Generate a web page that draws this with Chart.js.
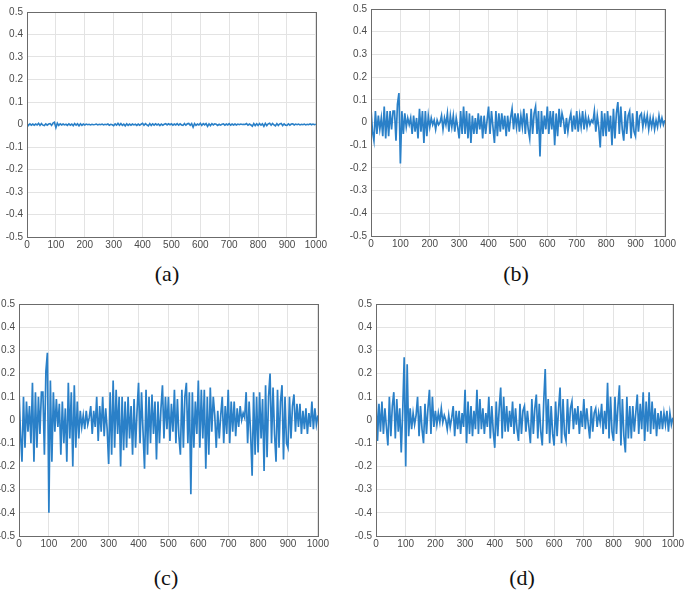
<!DOCTYPE html>
<html>
<head>
<meta charset="utf-8">
<script src="https://cdn.jsdelivr.net/npm/chart.js@4.4.0/dist/chart.umd.min.js"></script>
<style>
  html, body { margin:0; padding:0; background:#fff; }
  body { width:685px; height:591px; position:relative; overflow:hidden; }
  .pane { position:absolute; }
  .cap { position:absolute; font-family:"Liberation Serif","Times New Roman",serif; font-size:22px; color:#111; transform:translate(-50%,-50%); white-space:nowrap; }
</style>
</head>
<body>
<div class="pane" id="pa"><canvas id="ca"></canvas></div>
<div class="pane" id="pb"><canvas id="cb"></canvas></div>
<div class="pane" id="pc"><canvas id="cc"></canvas></div>
<div class="pane" id="pd"><canvas id="cd"></canvas></div>
<div class="cap" style="left:167px;top:274px">(a)</div>
<div class="cap" style="left:516px;top:274px">(b)</div>
<div class="cap" style="left:166px;top:578px">(c)</div>
<div class="cap" style="left:522px;top:578px">(d)</div>
<script>
// ---- data (sample index step 5) ----
const sampleStep = 5;
const panelLabels = ["(a)", "(b)", "(c)", "(d)"];
const xTickValues = [0,100,200,300,400,500,600,700,800,900,1000];
const yTickValues = [-0.5,-0.4,-0.3,-0.2,-0.1,0,0.1,0.2,0.3,0.4,0.5];

const seriesA = [
 0.004,-0.004,0.003,-0.003, 0.002,-0.003,0.002,-0.002, 0.005,-0.004,0.004,-0.003, -0.005,0.003,-0.003,0.002,
 0.004,-0.004,0.006,0.010, -0.014,0.006,-0.004,0.003, -0.002,0.002,-0.002,0.001, -0.004,0.003,-0.003,0.002,
 -0.005,0.004,-0.003,0.003, -0.006,0.003,-0.004,0.002, -0.002,0.002,-0.001,0.001, -0.002,0.001,-0.001,0.000,
 0.002,-0.002,0.001,-0.001, 0.002,-0.002,0.001,-0.001, 0.002,-0.003,0.001,-0.001, -0.005,0.003,-0.003,0.005,
 -0.003,0.004,-0.004,0.002, -0.006,0.003,-0.004,0.002, -0.003,0.002,-0.002,0.001, -0.004,0.002,-0.003,0.001,
 0.005,-0.003,0.004,-0.002, -0.006,0.004,-0.004,0.003, -0.003,0.003,-0.002,0.002, -0.005,0.002,-0.003,0.001,
 0.004,-0.002,0.003,-0.001, 0.003,-0.003,0.002,-0.002, 0.004,-0.003,0.003,-0.002, -0.004,0.004,-0.003,0.003,
 0.005,-0.003,0.004,-0.012, 0.004,-0.004,0.002,-0.002, 0.005,-0.004,0.004,-0.002, 0.004,-0.008,0.003,-0.005,
 0.004,-0.002,0.003,0.001, -0.004,0.001,-0.003,0.001, 0.003,-0.003,0.002,-0.002, 0.004,-0.003,0.002,-0.002,
 0.002,-0.002,0.002,-0.001, 0.002,0.000,0.001,0.000, 0.004,-0.003,0.002,-0.002, -0.008,0.004,-0.005,0.003,
 -0.004,0.004,-0.003,0.003, -0.008,0.005,-0.005,0.003, 0.006,-0.003,0.005,-0.002, -0.006,0.004,-0.004,0.003,
 0.005,-0.005,0.003,-0.003, -0.004,0.003,-0.003,0.002, 0.003,-0.002,0.002,-0.001, 0.002,-0.002,0.001,-0.001,
 0.002,-0.002,0.001,-0.001, 0.003,-0.001,0.002,-0.001, 0.001
];

const seriesB = [
 0.06,-0.04,-0.08,0.05, -0.05,0.03,-0.03,0.02, -0.06,0.07,-0.07,0.05, -0.06,0.05,-0.03,0.05,
 0.05,-0.08,0.08,0.13, -0.18,0.05,-0.05,0.04, -0.02,0.02,-0.01,0.02, -0.05,0.03,-0.04,0.02,
 -0.07,0.06,-0.04,0.05, -0.09,0.05,-0.06,0.03, -0.02,0.02,-0.01,0.01, -0.03,0.01,-0.01,0.00,
 0.03,-0.03,0.02,-0.01, 0.04,-0.04,0.03,-0.02, 0.03,-0.04,0.02,-0.02, -0.07,0.05,-0.05,0.07,
 -0.05,0.05,-0.07,0.04, -0.09,0.03,-0.05,0.02, -0.05,0.04,-0.03,0.03, -0.07,0.03,-0.05,0.01,
 0.07,-0.05,0.05,-0.02, -0.09,0.05,-0.06,0.04, -0.04,0.04,-0.03,0.03, -0.06,0.03,-0.04,0.02,
 0.06,-0.03,0.04,-0.02, 0.04,-0.04,0.03,-0.02, 0.06,-0.05,0.04,-0.03, -0.07,0.06,-0.05,0.04,
 0.07,-0.05,0.05,-0.15, 0.05,-0.05,0.03,-0.03, 0.07,-0.05,0.05,-0.03, 0.05,-0.10,0.04,-0.06,
 0.06,-0.02,0.04,0.01, -0.05,0.02,-0.04,0.01, 0.04,-0.04,0.03,-0.03, 0.05,-0.04,0.03,-0.02,
 0.05,-0.03,0.03,-0.02, 0.02,-0.01,0.01,0.00, 0.05,-0.04,0.03,-0.02, -0.11,0.05,-0.06,0.04,
 -0.06,0.05,-0.04,0.03, -0.10,0.06,-0.07,0.04, 0.09,-0.05,0.07,-0.03, -0.08,0.05,-0.05,0.03,
 0.05,-0.07,0.04,-0.04, -0.06,0.05,-0.04,0.03, 0.04,-0.02,0.03,-0.01, 0.03,-0.03,0.02,-0.02,
 0.02,-0.03,0.01,-0.02, 0.03,-0.01,0.02,-0.01, 0.01
];

const seriesC = [
 0.13,-0.06,-0.18,0.10, -0.12,0.08,-0.05,0.06, -0.10,0.16,-0.18,0.12, -0.12,0.10,-0.06,0.12,
 0.12,-0.15,0.21,0.29, -0.40,0.17,-0.18,0.12, -0.05,0.09,-0.03,0.07, -0.15,0.08,-0.10,0.05,
 -0.18,0.16,-0.08,0.12, -0.20,0.15,-0.12,0.08, -0.08,0.04,-0.03,0.02, -0.04,0.04,-0.02,0.01,
 0.06,-0.06,0.04,-0.03, 0.10,-0.09,0.06,-0.05, 0.10,-0.07,0.05,-0.04, -0.19,0.12,-0.15,0.17,
 -0.12,0.13,-0.06,0.10, -0.20,0.10,-0.13,0.08, -0.12,0.10,-0.08,0.06, -0.15,0.09,-0.12,0.04,
 0.16,-0.10,0.12,-0.05, -0.21,0.13,-0.15,0.10, -0.10,0.11,-0.06,0.08, -0.17,0.08,-0.10,0.05,
 0.15,-0.08,0.10,-0.04, 0.10,-0.09,0.07,-0.05, 0.13,-0.10,0.09,-0.07, -0.15,0.13,-0.12,0.10,
 0.16,-0.10,0.12,-0.32, 0.12,-0.12,0.08,-0.06, 0.17,-0.12,0.13,-0.08, 0.13,-0.21,0.10,-0.15,
 0.14,-0.05,0.10,0.02, -0.12,0.04,-0.08,0.02, 0.10,-0.10,0.06,-0.06, 0.13,-0.10,0.08,-0.05,
 0.08,-0.07,0.05,-0.03, 0.06,0.00,0.03,0.01, 0.12,-0.10,0.08,-0.06, -0.24,0.12,-0.15,0.10,
 -0.14,0.12,-0.08,0.09, -0.22,0.15,-0.16,0.10, 0.20,-0.10,0.14,-0.06, -0.18,0.13,-0.12,0.08,
 0.15,-0.17,0.10,-0.10, -0.12,0.10,-0.08,0.06, 0.11,-0.05,0.07,-0.03, 0.07,-0.06,0.04,-0.04,
 0.05,-0.06,0.03,-0.03, 0.08,-0.04,0.05,-0.02, 0.02
];

const seriesD = [
 0.12,-0.09,0.07,-0.05, 0.08,-0.06,0.05,-0.03, -0.11,0.10,-0.07,0.06, 0.12,-0.08,0.09,-0.05,
 0.05,-0.14,0.04,0.27, -0.20,0.24,-0.07,0.05, -0.04,0.03,-0.02,0.02, 0.10,-0.07,0.06,-0.04,
 -0.10,0.07,-0.06,0.05, 0.13,-0.06,0.10,-0.03, 0.04,-0.02,0.03,-0.01, 0.05,-0.01,0.02,0.00,
 -0.04,0.02,-0.03,0.01, 0.06,-0.07,0.04,-0.04, 0.04,-0.06,0.03,-0.03, 0.13,-0.10,0.08,-0.06,
 0.06,-0.07,0.04,-0.04, 0.13,-0.06,0.09,-0.04, 0.05,-0.06,0.03,-0.03, 0.10,-0.08,0.06,-0.05,
 -0.12,0.08,-0.07,0.05, 0.14,-0.08,0.10,-0.05, 0.06,-0.05,0.04,-0.03, 0.08,-0.06,0.05,-0.04,
 -0.09,0.07,-0.06,0.04, 0.06,-0.05,0.04,-0.03, -0.10,0.09,-0.06,0.05, 0.11,-0.08,0.07,-0.05,
 -0.11,0.08,0.22,-0.06, 0.09,-0.10,0.06,-0.06, -0.11,0.08,-0.07,0.05, 0.14,-0.10,0.09,-0.06,
 -0.09,0.09,-0.06,0.05, 0.08,-0.04,0.05,-0.02, 0.06,-0.06,0.04,-0.03, 0.09,-0.04,0.05,-0.02,
 -0.08,0.06,-0.05,0.03, 0.05,-0.03,0.03,-0.01, 0.07,-0.06,0.04,-0.04, 0.16,-0.08,0.10,-0.05,
 -0.09,0.10,-0.06,0.06, 0.15,-0.11,0.09,-0.07, -0.14,0.10,-0.08,0.06, -0.08,0.06,-0.05,0.03,
 0.11,-0.06,0.07,-0.04, 0.12,-0.09,0.08,-0.05, 0.12,-0.06,0.08,-0.04, 0.05,-0.07,0.03,-0.04,
 0.04,-0.04,0.03,-0.02, 0.04,-0.05,0.03,-0.02, 0.01
];

// ---- layout (plot rectangles in page pixels) ----
const panels = [
  { id:'a', data: seriesA, L:27,  T:8,   R:316, B:237, yW:27 },
  { id:'b', data: seriesB, L:371, T:5,   R:665, B:236, yW:27 },
  { id:'c', data: seriesC, L:19,  T:300, R:318, B:536, yW:19 },
  { id:'d', data: seriesD, L:376, T:300, R:673, B:536, yW:27 }
];

const boxPlugin = {
  id: 'box',
  afterDraw(chart) {
    const a = chart.chartArea, ctx = chart.ctx;
    ctx.save();
    ctx.strokeStyle = '#6b6b6b';
    ctx.lineWidth = 1;
    ctx.strokeRect(Math.round(a.left) + 0.5, Math.round(a.top) + 0.5,
                   Math.round(a.right - a.left), Math.round(a.bottom - a.top));
    ctx.restore();
  }
};

function fmtY(v) {
  if (Math.abs(v) < 1e-9) return '0';
  return String(+v.toFixed(1));
}

panels.forEach(p => {
  const padT = 6, padR = 13, xH = 16;
  const w = p.yW + (p.R - p.L) + padR;
  const h = padT + (p.B - p.T) + xH;
  const div = document.getElementById('p' + p.id);
  div.style.left = (p.L - p.yW) + 'px';
  div.style.top = (p.T - padT) + 'px';
  div.style.width = w + 'px';
  div.style.height = h + 'px';
  const labels = p.data.map((_, i) => i * sampleStep);
  new Chart(document.getElementById('c' + p.id), {
    type: 'line',
    data: {
      labels: labels,
      datasets: [{
        data: p.data,
        borderColor: '#2a80c8',
        borderWidth: p.id === 'a' ? 1.6 : 1.7,
        pointRadius: 0,
        tension: 0,
        fill: false
      }]
    },
    options: {
      responsive: true,
      maintainAspectRatio: false,
      animation: false,
      events: [],
      layout: { padding: { top: padT, right: padR, left: 0, bottom: 0 } },
      plugins: { legend: { display: false }, tooltip: { enabled: false } },
      scales: {
        x: {
          type: 'linear',
          min: 0, max: 1000,
          afterFit: s => { s.height = xH; },
          afterBuildTicks: s => { s.ticks = xTickValues.map(v => ({ value: v })); },
          ticks: {
            autoSkip: false, maxRotation: 0, padding: 2,
            color: '#4a4a4a',
            font: { family: 'Liberation Sans, Arial, sans-serif', size: 10 },
            callback: v => String(v)
          },
          grid: { color: '#e3e3e3', lineWidth: 1, drawTicks: false },
          border: { display: true, color: '#6b6b6b' }
        },
        y: {
          type: 'linear',
          min: -0.5, max: 0.5,
          afterFit: s => { s.width = p.yW; },
          afterBuildTicks: s => { s.ticks = yTickValues.map(v => ({ value: v })); },
          ticks: {
            autoSkip: false, padding: 4,
            color: '#4a4a4a',
            font: { family: 'Liberation Sans, Arial, sans-serif', size: 10 },
            callback: v => fmtY(v)
          },
          grid: { color: '#e3e3e3', lineWidth: 1, drawTicks: false },
          border: { display: true, color: '#6b6b6b' }
        }
      }
    },
    plugins: [boxPlugin]
  });
});
</script>
</body>
</html>
